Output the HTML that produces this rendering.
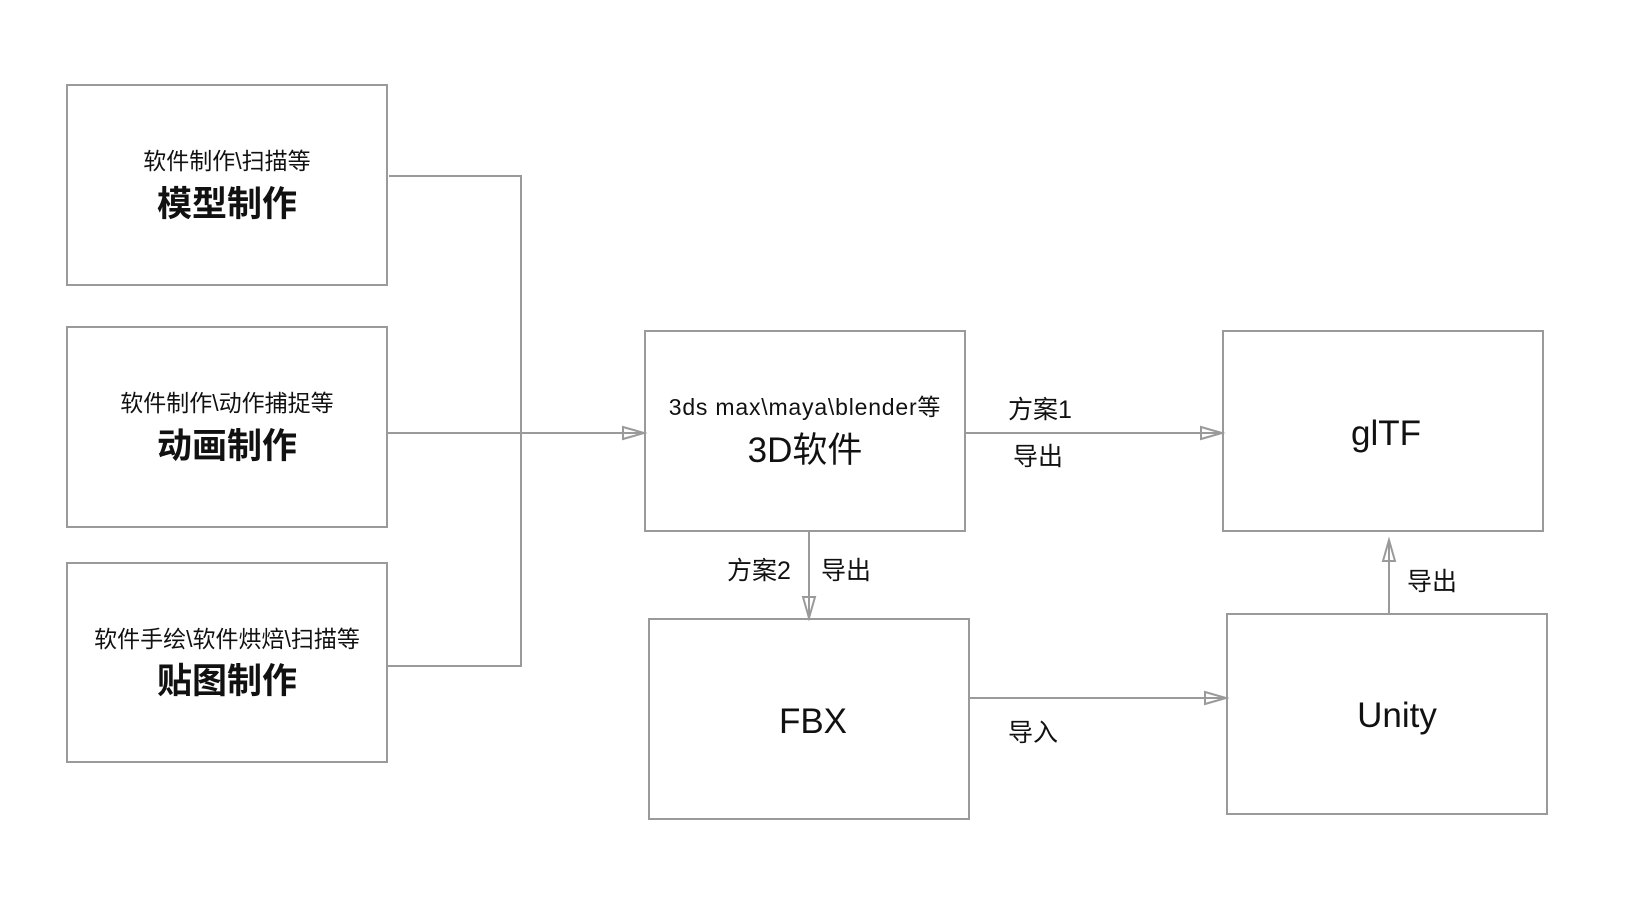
<!DOCTYPE html>
<html><head><meta charset="utf-8"><style>
html,body{margin:0;padding:0;background:#fff;}
svg text{font-family:"Liberation Sans","Noto Sans CJK SC",sans-serif;fill:#111;}
</style></head><body>
<svg width="1634" height="906" viewBox="0 0 1634 906" xmlns="http://www.w3.org/2000/svg">
<g fill="none" stroke="#9a9a9a" stroke-width="2">
<rect x="67" y="85" width="320" height="200"/>
<rect x="67" y="327" width="320" height="200"/>
<rect x="67" y="563" width="320" height="199"/>
<rect x="645" y="331" width="320" height="200"/>
<rect x="1223" y="331" width="320" height="200"/>
<rect x="649" y="619" width="320" height="200"/>
<rect x="1227" y="614" width="320" height="200"/>
<polyline points="389,176 521,176 521,666 387,666"/>
<line x1="387" y1="433" x2="644" y2="433"/>
<line x1="965" y1="433" x2="1222" y2="433"/>
<line x1="809" y1="531" x2="809" y2="618"/>
<line x1="969" y1="698" x2="1226" y2="698"/>
<line x1="1389" y1="613" x2="1389" y2="540"/>
<polygon points="623,427 644,433 623,439"/>
<polygon points="1201,427 1222,433 1201,439"/>
<polygon points="1205,692 1226,698 1205,704"/>
<polygon points="803,597 809,618 815,597"/>
<polygon points="1383,561 1389,540 1395,561"/>
</g>
<g text-anchor="middle">
<text x="227" y="169" font-size="23">软件制作\扫描等</text>
<text x="227" y="216" font-size="35" font-weight="bold">模型制作</text>
<text x="227" y="411" font-size="23">软件制作\动作捕捉等</text>
<text x="227" y="458" font-size="35" font-weight="bold">动画制作</text>
<text x="227" y="647" font-size="23">软件手绘\软件烘焙\扫描等</text>
<text x="227" y="693" font-size="35" font-weight="bold">贴图制作</text>
<text x="805" y="415" font-size="23" letter-spacing="0.8">3ds max\maya\blender等</text>
<text x="805" y="462" font-size="35">3D软件</text>
<text x="1386" y="445" font-size="35">glTF</text>
<text x="813" y="733" font-size="35">FBX</text>
<text x="1397" y="727" font-size="35">Unity</text>
</g>
<g font-size="25">
<text x="1008" y="418">方案1</text>
<text x="1013" y="465">导出</text>
<text x="727" y="579">方案2</text>
<text x="821" y="579">导出</text>
<text x="1407" y="590">导出</text>
<text x="1008" y="741">导入</text>
</g>
</svg>
</body></html>
